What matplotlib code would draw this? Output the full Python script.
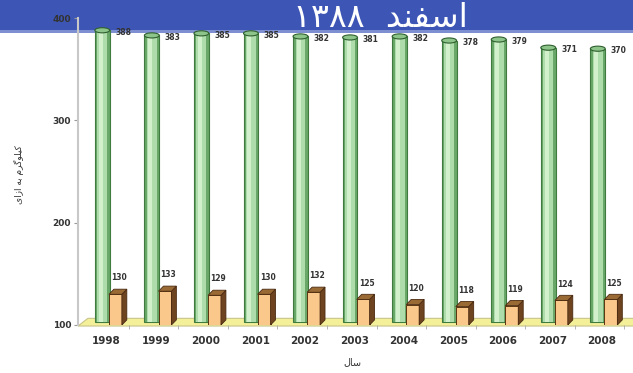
import numpy as np
import matplotlib.pyplot as plt
from matplotlib.patches import Rectangle, Polygon, Ellipse

years = ["1998", "1999", "2000", "2001", "2002", "2003", "2004", "2005", "2006", "2007", "2008"]
green_vals = [388, 383, 385, 385, 382, 381, 382, 378, 379, 371, 370]
orange_vals = [130, 133, 129, 130, 132, 125, 120, 118, 119, 124, 125]
title_word = "اسفند"
title_num = "۱۳۸۸"
ylabel_txt = "کیلوگرم به ازای"
xlabel_txt = "سال"

# tiny persian shaper: matplotlib does not join arabic letters itself
FORMS = {
    "ا": (0xFE8D, 0xFE8E, None, None), "ب": (0xFE8F, 0xFE90, 0xFE91, 0xFE92),
    "ت": (0xFE95, 0xFE96, 0xFE97, 0xFE98), "د": (0xFEA9, 0xFEAA, None, None),
    "ذ": (0xFEAB, 0xFEAC, None, None), "ر": (0xFEAD, 0xFEAE, None, None),
    "ز": (0xFEAF, 0xFEB0, None, None), "س": (0xFEB1, 0xFEB2, 0xFEB3, 0xFEB4),
    "ف": (0xFED1, 0xFED2, 0xFED3, 0xFED4), "ل": (0xFEDD, 0xFEDE, 0xFEDF, 0xFEE0),
    "م": (0xFEE1, 0xFEE2, 0xFEE3, 0xFEE4), "ن": (0xFEE5, 0xFEE6, 0xFEE7, 0xFEE8),
    "ه": (0xFEE9, 0xFEEA, 0xFEEB, 0xFEEC), "و": (0xFEED, 0xFEEE, None, None),
    "ک": (0xFB8E, 0xFB8F, 0xFB90, 0xFB91), "گ": (0xFB92, 0xFB93, 0xFB94, 0xFB95),
    "ی": (0xFBFC, 0xFBFD, 0xFBFE, 0xFBFF),
}


def shape(s):
    out = []
    for k, ch in enumerate(s):
        if ch not in FORMS:
            out.append(ch)
            continue
        prev = s[k - 1] if k > 0 else " "
        nxt = s[k + 1] if k < len(s) - 1 else " "
        join_prev = prev in FORMS and FORMS[prev][2] is not None
        join_next = nxt in FORMS and FORMS[ch][2] is not None
        iso, fin, ini, med = FORMS[ch]
        if join_prev and join_next:
            c = med
        elif join_prev:
            c = fin
        elif join_next:
            c = ini
        else:
            c = iso
        out.append(chr(c))
    return "".join(out[::-1])


W, H = 633, 373
fig = plt.figure(figsize=(W / 100, H / 100), dpi=100)
fig.patch.set_facecolor("white")

# blue banner
fig.patches.append(Rectangle((0, 1 - 31 / H), 1, 31 / H, transform=fig.transFigure,
                             facecolor="#3d56b6", edgecolor="none", zorder=-2))
fig.patches.append(Rectangle((0, 1 - 33 / H), 1, 3 / H, transform=fig.transFigure,
                             facecolor="#7d8fd0", edgecolor="none", zorder=-2))
fig.text(380 / W, 1 - 27 / H, title_num + "  " + shape(title_word), color="white",
         fontsize=24, ha="center", va="baseline", family="DejaVu Sans", zorder=5)

x0 = 106.5
step = 49.55
ax = fig.add_axes([78 / W, 1 - 325 / H, 1 - 78 / W, (325 - 18) / H])
ax.set_facecolor("none")
ax.set_zorder(1)
ax.set_xlim((78 - x0) / step, (W - x0) / step)
ax.set_ylim(100, 400)

xs = np.arange(len(years))

# floor
xl, xr = (78 - x0) / step, 11.0
floor = Polygon([(xl, 99), (xl + 0.2, 106.5), (xr, 106.5), (xr, 99)], closed=True,
                facecolor="#f4f09a", edgecolor="#c9c48a", lw=0.8, clip_on=False, zorder=1)
ax.add_patch(floor)

# green cylinders
gw = 0.3
gl = xs - 0.235
ax.bar(gl, np.array(green_vals) - 103, bottom=103, width=gw, align="edge",
       color="#6aa86a", edgecolor="#3f7a3f", lw=0.8, zorder=3)
ax.bar(gl + 0.05, np.array(green_vals) - 103, bottom=103, width=gw - 0.1, align="edge",
       color="#aedcaa", edgecolor="none", zorder=3)
ax.bar(gl + 0.08, np.array(green_vals) - 103, bottom=103, width=0.08, align="edge",
       color="#d2f0cc", edgecolor="none", zorder=3)
for x, v in zip(gl, green_vals):
    ax.add_patch(Ellipse((x + gw / 2, v), gw, 5, facecolor="#8cc48a", edgecolor="#2f5f2f",
                         lw=0.8, zorder=4, clip_on=False))
    ax.text(x + 0.41, v - 2, str(v), fontsize=5.5, fontweight="bold", color="#333333",
            ha="left", va="center", zorder=6, clip_on=False)

# orange boxes
dx, dy = 0.1, 5
ol = xs + 0.05
ow = 0.26
ax.bar(ol, np.array(orange_vals) - 100, bottom=100, width=ow, align="edge",
       color="#fbc88c", edgecolor="#5a3510", lw=0.7, zorder=3)
for x, v in zip(ol, orange_vals):
    side = Polygon([(x + ow, 100), (x + ow + dx, 100 + dy), (x + ow + dx, v + dy), (x + ow, v)],
                   closed=True, facecolor="#6e4420", edgecolor="#4a2a10", lw=0.6, zorder=3)
    top = Polygon([(x, v), (x + dx, v + dy), (x + ow + dx, v + dy), (x + ow, v)],
                  closed=True, facecolor="#9a6a35", edgecolor="#4a2a10", lw=0.6, zorder=3)
    ax.add_patch(side)
    ax.add_patch(top)
    ax.text(x + 0.2, v + 16, str(v), fontsize=5.5, fontweight="bold", color="#333333",
            ha="center", va="center", zorder=6)

for s in ["top", "right", "bottom"]:
    ax.spines[s].set_visible(False)
ax.spines["left"].set_color("#c8c8c8")
ax.spines["left"].set_linewidth(1.5)

ax.set_yticks([100, 200, 300, 400])
ax.tick_params(axis="y", length=3, color="#999999", labelsize=6.5, labelcolor="#333333", pad=2)
for t in ax.get_yticklabels():
    t.set_fontweight("bold")

ax.set_xticks(xs)
ax.set_xticklabels(years, fontsize=7.5, fontweight="bold", color="#333333")
ax.tick_params(axis="x", length=0, pad=8)
ax.set_xticks(xs + 0.45, minor=True)
ax.tick_params(axis="x", which="minor", length=3, color="#aaaaaa", direction="out")

fig.text(352 / W, 1 - 362 / H, shape(xlabel_txt), fontsize=7, color="#333333",
         ha="center", va="center", family="DejaVu Sans")
fig.text(19 / W, 1 - 175 / H, shape(ylabel_txt), fontsize=6.5, color="#333333",
         ha="center", va="center", rotation=90, family="DejaVu Sans")

fig.savefig("out.png", dpi=100)
